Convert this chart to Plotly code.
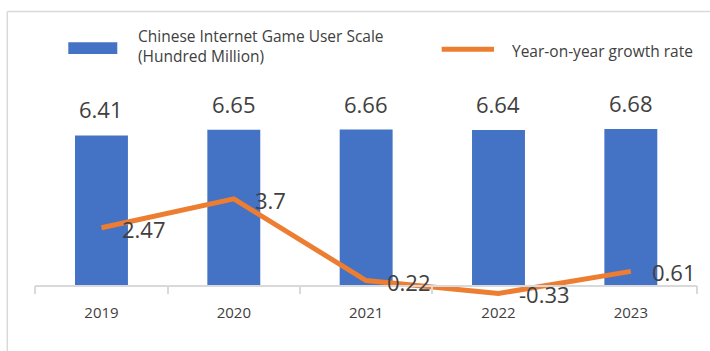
import plotly.graph_objects as go

# ---- data ----
years = ["2019", "2020", "2021", "2022", "2023"]
users = [6.41, 6.65, 6.66, 6.64, 6.68]          # hundred million
growth = [2.47, 3.7, 0.22, -0.33, 0.61]         # year-on-year growth rate (%)
bar_name = "Chinese Internet Game User Scale<br>(Hundred Million)"
line_name = "Year-on-year growth rate"

# ---- styling ----
W, H = 710, 351
BLUE = "#4472C4"
ORANGE = "#ED7D31"
TXT = "#404040"
GRID = "#d9d9d9"
FONT = "Open Sans"

Y_MIN, Y_MAX = -2.785, 12.183
zero_pos = (0 - Y_MIN) / (Y_MAX - Y_MIN)

def px(x):
    return x / W

def py(y):
    return 1 - y / H

fig = go.Figure()
fig.add_trace(go.Bar(x=years, y=users, name="Chinese Internet Game User Scale (Hundred Million)",
                     marker=dict(color=BLUE, line=dict(width=0)),
                     width=0.4, yaxis="y", showlegend=False))
fig.add_trace(go.Scatter(x=years, y=growth, name=line_name, mode="lines",
                         line=dict(color=ORANGE, width=5), yaxis="y2", showlegend=False))

annotations = []
for i, v in enumerate(users):
    annotations.append(dict(x=i, y=v, xref="x", yref="y", text=f"{v:g}", showarrow=False,
                            yanchor="middle", yshift=26, font=dict(family=FONT, size=22, color=TXT)))
for i, v in enumerate(growth):
    annotations.append(dict(x=i, y=v, xref="x", yref="y2", text=f"{v:g}", showarrow=False,
                            xanchor="left", yanchor="middle", xshift=19, yshift=-1,
                            font=dict(family=FONT, size=22, color=TXT)))

# legend (drawn manually)
annotations += [
    dict(x=px(136), y=py(46), xref="paper", yref="paper", text=bar_name, showarrow=False,
         xanchor="left", yanchor="middle", align="left",
         font=dict(family=FONT, size=15.5, color=TXT)),
    dict(x=px(510), y=py(51), xref="paper", yref="paper", text=line_name, showarrow=False,
         xanchor="left", yanchor="middle", font=dict(family=FONT, size=15.5, color=TXT)),
]
shapes = [
    dict(type="rect", xref="paper", yref="paper", x0=px(68.3), x1=px(117.3), y0=py(42.3), y1=py(54),
         fillcolor=BLUE, line=dict(width=0)),
    dict(type="line", xref="paper", yref="paper", x0=px(441.7), x1=px(494), y0=py(49.3), y1=py(49.3),
         line=dict(color=ORANGE, width=5)),
    # chart-area border fragments
    dict(type="line", xref="paper", yref="paper", x0=px(7.3), x1=px(712), y0=py(11.5), y1=py(11.5),
         line=dict(color=GRID, width=1.5)),
    dict(type="line", xref="paper", yref="paper", x0=px(7.3), x1=px(7.3), y0=py(11.5), y1=py(360),
         line=dict(color=GRID, width=1.5)),
]

fig.update_layout(
    width=W, height=H,
    margin=dict(l=0, r=0, t=0, b=0),
    paper_bgcolor="white", plot_bgcolor="white",
    font=dict(family=FONT, color=TXT),
    showlegend=False,
    xaxis=dict(type="category", domain=[35.3 / W, 697 / W], range=[-0.5, 4.5],
               anchor="free", position=zero_pos,
               showline=True, linecolor=GRID, linewidth=1.5,
               ticks="outside", ticklen=8, tickcolor=GRID, tickwidth=1.5, tickson="boundaries",
               showgrid=False, zeroline=False, ticklabelstandoff=14,
               tickfont=dict(family=FONT, size=15, color=TXT)),
    yaxis=dict(range=[Y_MIN, Y_MAX], visible=False, showgrid=False, zeroline=False, domain=[0, 1]),
    yaxis2=dict(range=[Y_MIN, Y_MAX], visible=False, showgrid=False, zeroline=False,
                overlaying="y", side="right"),
    annotations=annotations,
    shapes=shapes,
)

fig.write_html("out.html")
